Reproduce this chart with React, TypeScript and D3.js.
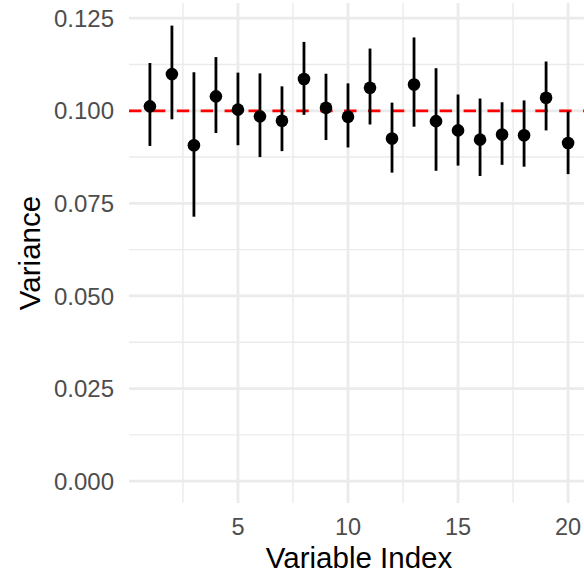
import React from 'react';
import * as d3 from 'd3';

// values
const varIndex = [1, 2, 3, 4, 5, 6, 7, 8, 9, 10, 11, 12, 13, 14, 15, 16, 17, 18, 19, 20];
const variance = [0.1012, 0.1099, 0.0907, 0.1039, 0.1003, 0.0985, 0.0973, 0.1086, 0.1008, 0.0984,
  0.1062, 0.0925, 0.1071, 0.0972, 0.0947, 0.0922, 0.0936, 0.0934, 0.1035, 0.0913];
const lower = [0.0905, 0.0977, 0.0714, 0.094, 0.0907, 0.0875, 0.0891, 0.0989, 0.0921, 0.0901,
  0.0963, 0.0833, 0.0957, 0.0838, 0.0852, 0.0824, 0.0854, 0.0849, 0.0947, 0.0829];
const upper = [0.1129, 0.123, 0.1104, 0.1145, 0.1103, 0.1101, 0.1066, 0.1186, 0.11, 0.1074,
  0.1168, 0.1022, 0.1198, 0.1115, 0.1044, 0.1033, 0.1023, 0.1028, 0.1133, 0.0998];
const xTicks = [5, 10, 15, 20];
const xMinor = [2.5, 7.5, 12.5, 17.5, 22.5];
const yTicks = [0, 0.025, 0.05, 0.075, 0.1, 0.125];
const yMinor = [0.0125, 0.0375, 0.0625, 0.0875, 0.1125];
const trueVariance = 0.1;

const width = 584;
const height = 577;
const font = 'Liberation Sans, Arial, sans-serif';

function App() {
  const svgRef = React.useRef(null);

  React.useEffect(() => {
    const svg = d3.select(svgRef.current);
    svg.selectAll('*').remove();

    const panel = { left: 129, right: 589, top: 3, bottom: 503 };

    const x = d3.scaleLinear().domain([0.05, 20.95]).range([panel.left, panel.right]);
    const y = d3.scaleLinear().domain([-0.0059, 0.1291]).range([panel.bottom, panel.top]);

    const grid = svg.append('g');
    // minor grid
    grid.selectAll('.ymin').data(yMinor).enter().append('line')
      .attr('x1', panel.left).attr('x2', panel.right)
      .attr('y1', (d) => y(d)).attr('y2', (d) => y(d))
      .attr('stroke', '#ebebeb').attr('stroke-width', 1.4);
    grid.selectAll('.xmin').data(xMinor).enter().append('line')
      .attr('x1', (d) => x(d)).attr('x2', (d) => x(d))
      .attr('y1', panel.top).attr('y2', panel.bottom)
      .attr('stroke', '#ebebeb').attr('stroke-width', 1.4);
    // major grid
    grid.selectAll('.ymaj').data(yTicks).enter().append('line')
      .attr('x1', panel.left).attr('x2', panel.right)
      .attr('y1', (d) => y(d)).attr('y2', (d) => y(d))
      .attr('stroke', '#ebebeb').attr('stroke-width', 2.8);
    grid.selectAll('.xmaj').data(xTicks).enter().append('line')
      .attr('x1', (d) => x(d)).attr('x2', (d) => x(d))
      .attr('y1', panel.top).attr('y2', panel.bottom)
      .attr('stroke', '#ebebeb').attr('stroke-width', 2.8);

    // reference line
    svg.append('line')
      .attr('x1', panel.left).attr('x2', panel.right)
      .attr('y1', y(trueVariance)).attr('y2', y(trueVariance))
      .attr('stroke', '#ff0000').attr('stroke-width', 2.8)
      .attr('stroke-dasharray', '12.4,11.5');

    // point ranges
    svg.selectAll('.range').data(varIndex).enter().append('line')
      .attr('x1', (d) => x(d)).attr('x2', (d) => x(d))
      .attr('y1', (d, i) => y(lower[i])).attr('y2', (d, i) => y(upper[i]))
      .attr('stroke', 'black').attr('stroke-width', 2.8);

    svg.selectAll('.dot').data(varIndex).enter().append('circle')
      .attr('cx', (d) => x(d))
      .attr('cy', (d, i) => y(variance[i]))
      .attr('r', 6.3)
      .attr('fill', 'black');

    // tick labels
    svg.selectAll('.ylab').data(yTicks).enter().append('text')
      .attr('x', 114).attr('y', (d) => y(d))
      .attr('dy', '0.36em')
      .attr('text-anchor', 'end')
      .attr('font-family', font).attr('font-size', 24)
      .attr('fill', '#4d4d4d')
      .text((d) => d3.format('.3f')(d));

    svg.selectAll('.xlab').data(xTicks).enter().append('text')
      .attr('x', (d) => x(d)).attr('y', 535)
      .attr('text-anchor', 'middle')
      .attr('font-family', font).attr('font-size', 23.5)
      .attr('fill', '#4d4d4d')
      .text((d) => d);

    // axis titles
    svg.append('text')
      .attr('x', (panel.left + panel.right) / 2).attr('y', 568)
      .attr('text-anchor', 'middle')
      .attr('font-family', font).attr('font-size', 29.5)
      .attr('fill', 'black')
      .text('Variable Index');

    svg.append('text')
      .attr('transform', `translate(40, ${(panel.top + panel.bottom) / 2}) rotate(-90)`)
      .attr('text-anchor', 'middle')
      .attr('font-family', font).attr('font-size', 29.5)
      .attr('fill', 'black')
      .text('Variance');
  }, []);

  return (
    <svg ref={svgRef} width={width} height={height}
      style={{ position: 'absolute', left: 0, top: 0, background: 'white' }}></svg>
  );
}

export default App;
